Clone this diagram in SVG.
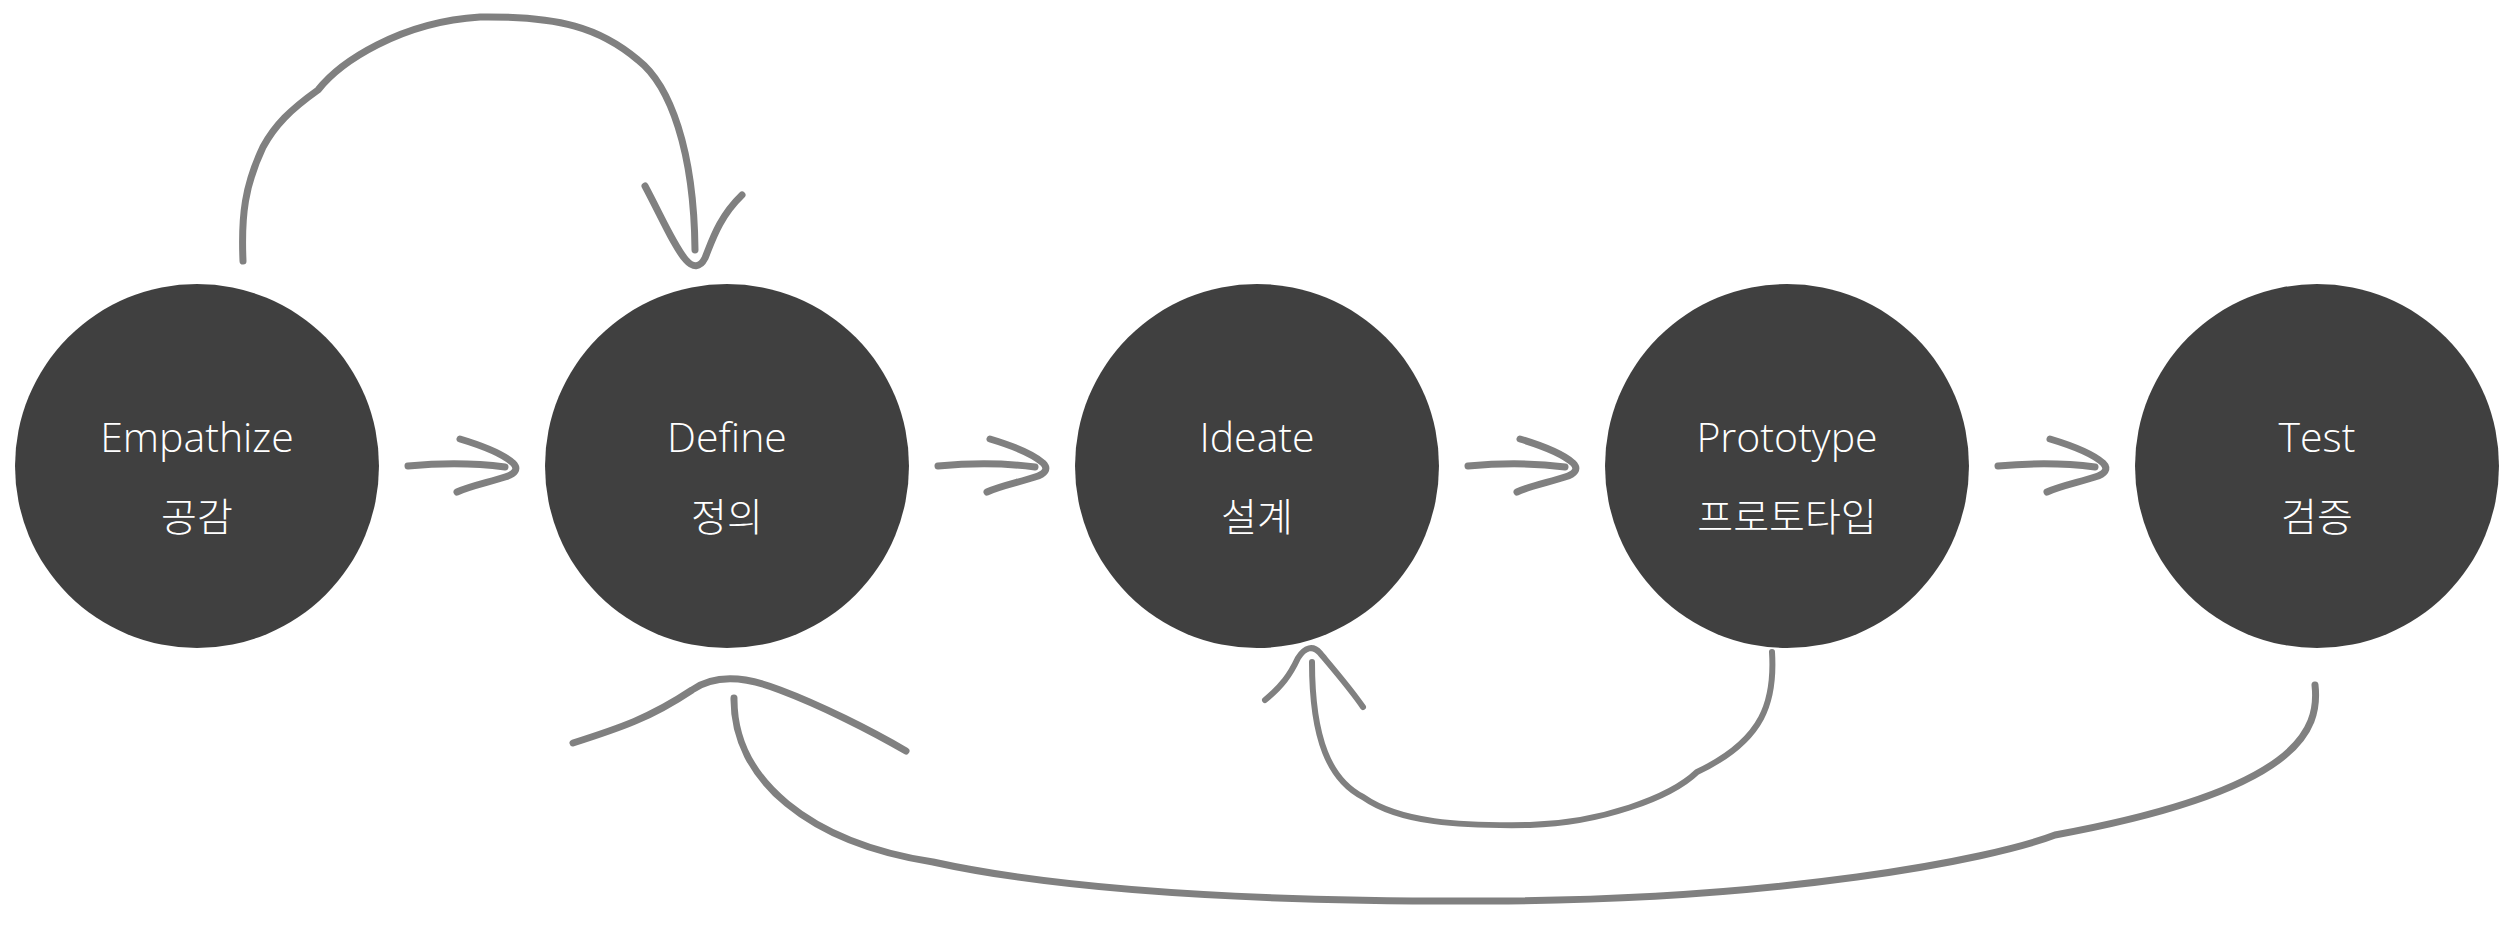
<svg xmlns="http://www.w3.org/2000/svg" width="2511" height="927" viewBox="0 0 2511 927">
<style>
.node{fill:#404040}
.en{font-family:"Open Sans","Noto Sans CJK KR",sans-serif;font-weight:300;font-size:41px;fill:#ffffff;text-anchor:middle}
.ko{font-family:"Noto Sans CJK KR","Noto Sans",sans-serif;font-weight:300;font-size:39px;fill:#ffffff;text-anchor:middle}
.c{fill:none;stroke:#808080;stroke-width:7;stroke-linecap:round;stroke-linejoin:round}
.t{fill:none;stroke:#808080;stroke-width:6;stroke-linecap:round;stroke-linejoin:round}
</style>
<rect width="2511" height="927" fill="#ffffff"/>
<g id="connectors">
  <g id="arrow-empathize-define">
    <path class="c" d="M408,466 C440,463 475,463 505,467"/>
    <path class="c" d="M460,439 C480,445 503,454 513,463 C519,469 515,474 505,477 C490,482 470,486 457,492"/>
  </g>
  <g id="arrow-define-ideate" transform="translate(530,0)">
    <path class="c" d="M408,466 C440,463 475,463 505,467"/>
    <path class="c" d="M460,439 C480,445 503,454 513,463 C519,469 515,474 505,477 C490,482 470,486 457,492"/>
  </g>
  <g id="arrow-ideate-prototype" transform="translate(1060,0)">
    <path class="c" d="M408,466 C440,463 475,463 505,467"/>
    <path class="c" d="M460,439 C480,445 503,454 513,463 C519,469 515,474 505,477 C490,482 470,486 457,492"/>
  </g>
  <g id="arrow-prototype-test" transform="translate(1590,0)">
    <path class="c" d="M408,466 C440,463 475,463 505,467"/>
    <path class="c" d="M460,439 C480,445 503,454 513,463 C519,469 515,474 505,477 C490,482 470,486 457,492"/>
  </g>
  <g id="loop-empathize-define">
    <path class="c" d="M243,261 C241,215 245,185 263,147 C275,125 290,110 318,90 C340,62 400,22 480,17 C560,16 600,28 638,60 C670,85 694,150 695,250"/>
    <path class="c" d="M645,186 C662,218 675,248 686,260 C693,268 700,268 705,258 C711,244 718,218 742,195"/>
  </g>
  <g id="loop-prototype-ideate">
    <path class="t" d="M1772,652 C1775,700 1765,740 1697,772 C1670,798 1600,823 1530,825 C1460,826 1400,823 1363,797 C1330,780 1312,740 1312,662"/>
    <path class="t" d="M1265,700 C1282,686 1290,675 1298,658 C1305,647 1313,645 1320,653 C1330,665 1350,688 1363,707"/>
  </g>
  <g id="loop-test-define">
    <path class="c" d="M2315,685 C2320,730 2300,790 2055,835 C1990,860 1780,900 1491,901 C1250,902 1060,890 933,862 C810,843 733,780 734,698"/>
    <path class="c" d="M573,743 C620,728 650,718 692,690 C712,676 740,674 780,690 C820,705 870,730 906,751"/>
  </g>
</g>
<g id="empathize">
  <circle class="node" cx="197" cy="466" r="182"/>
  <text class="en" x="197" y="452">Empathize</text>
  <text class="ko" x="197" y="531">공감</text>
</g>
<g id="define">
  <circle class="node" cx="727" cy="466" r="182"/>
  <text class="en" x="727" y="452">Define</text>
  <text class="ko" x="727" y="531">정의</text>
</g>
<g id="ideate">
  <circle class="node" cx="1257" cy="466" r="182"/>
  <text class="en" x="1257" y="452">Ideate</text>
  <text class="ko" x="1257" y="531">설계</text>
</g>
<g id="prototype">
  <circle class="node" cx="1787" cy="466" r="182"/>
  <text class="en" x="1787" y="452">Prototype</text>
  <text class="ko" x="1787" y="531">프로토타입</text>
</g>
<g id="test">
  <circle class="node" cx="2317" cy="466" r="182"/>
  <text class="en" x="2317" y="452">Test</text>
  <text class="ko" x="2317" y="531">검증</text>
</g>
</svg>
